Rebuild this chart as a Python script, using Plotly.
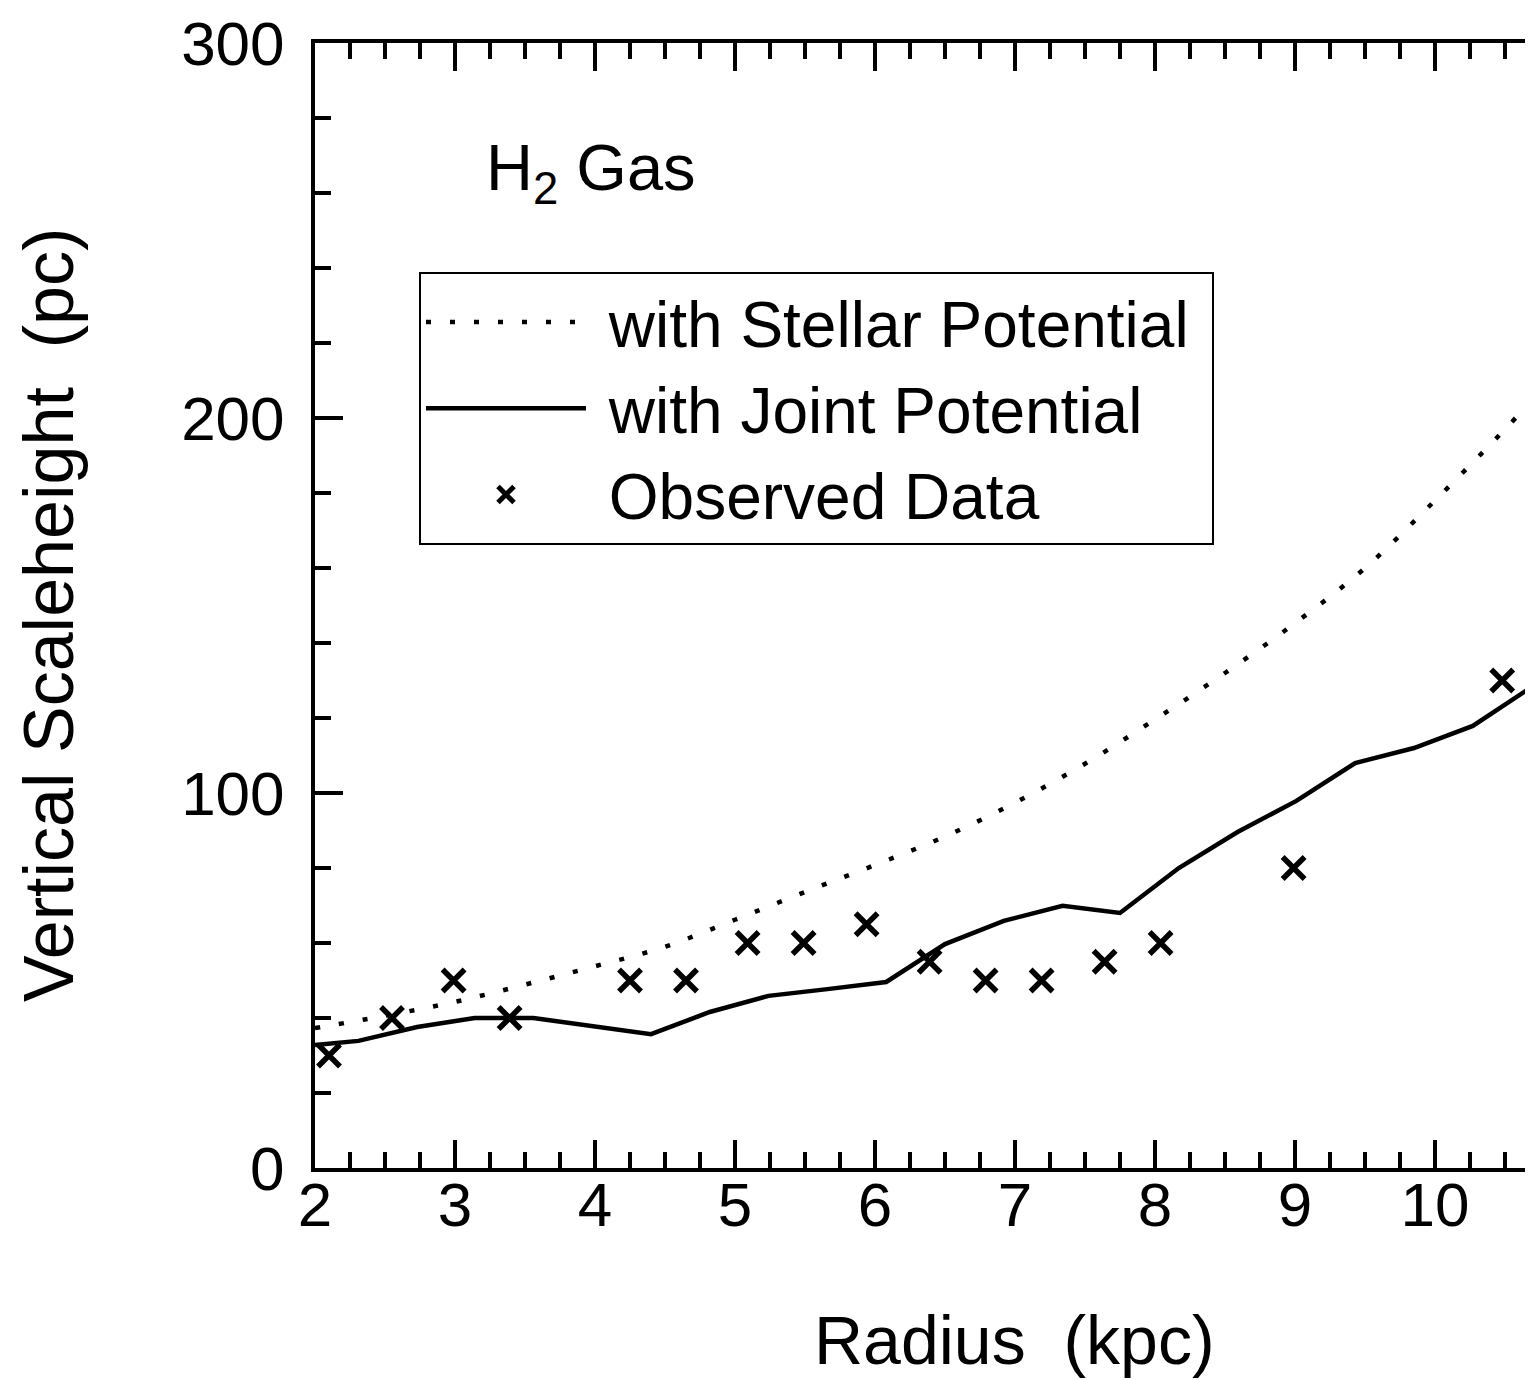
import plotly.graph_objects as go

# ---- data ----
stellar_r = [2.0, 2.5, 3.0, 3.5, 4.0, 4.5, 5.0, 5.5, 6.0, 6.5, 7.0, 7.5, 8.0, 8.5, 9.0, 9.5, 10.0, 10.5, 10.7]
stellar_h = [37.3, 40.6, 44.3, 48.9, 53.8, 59.0, 66.2, 73.6, 80.8, 88.4, 97.4, 107.8, 119.6, 132.0, 145.3, 160.0, 178.0, 197.0, 205.0]

joint_r = [2.0, 2.31, 2.73, 3.14, 3.56, 4.40, 4.82, 5.24, 5.66, 6.08, 6.50, 6.92, 7.34, 7.75,
           8.17, 8.59, 9.01, 9.43, 9.85, 10.27, 10.70]
joint_h = [32.8, 33.9, 37.6, 40.0, 40.0, 35.7, 41.6, 45.9, 47.7, 49.6, 59.7, 65.9, 69.9, 68.0,
           80.0, 89.6, 97.9, 108.0, 112.0, 117.9, 128.5]

obs_r = [2.10, 2.55, 2.99, 3.39, 4.25, 4.65, 5.09, 5.49, 5.94, 6.39, 6.79, 7.19, 7.64, 8.04, 8.99, 10.48]
obs_h = [30, 40, 50, 40, 50, 50, 60, 60, 65, 55, 50, 50, 55, 60, 80, 130]

x_ticks = [2, 3, 4, 5, 6, 7, 8, 9, 10]
y_ticks = [0, 100, 200, 300]

FONT = "Liberation Sans, Arial, sans-serif"
NB = "\u00a0"

# page body has an 8px margin; figure coordinates below are page coords minus 8
OFF = 8
PL, PT, PB, PR = 315, 43, 1168, 1533  # plot area in page pixels
W, H = 1525, 1372
PW, PH = PR - PL, PB - PT


def px(xp):
    return (xp - PL) / PW


def py(yp):
    return 1 - (yp - PT) / PH


fig = go.Figure()
fig.add_trace(go.Scatter(
    x=stellar_r, y=stellar_h, mode="lines", name=NB + "with Stellar Potential" + NB,
    line=dict(color="black", width=4.5, dash="5px,19px", shape="spline"),
))
fig.add_trace(go.Scatter(
    x=joint_r, y=joint_h, mode="lines", name=NB + "with Joint Potential",
    line=dict(color="black", width=4.5),
))
fig.add_trace(go.Scatter(
    x=obs_r, y=obs_h, mode="markers", name=NB + "Observed Data",
    marker=dict(symbol="x-thin", size=22, color="black", line=dict(color="black", width=5.5)),
))

fig.update_layout(
    width=W, height=H,
    margin=dict(l=PL - OFF, r=0, t=PT - OFF, b=H + OFF - PB),
    plot_bgcolor="white", paper_bgcolor="white",
    font=dict(family=FONT, size=62, color="black"),
    showlegend=True,
    legend=dict(
        x=px(419), y=py(272), xanchor="left", yanchor="top",
        bordercolor="black", borderwidth=2, bgcolor="white",
        font=dict(family=FONT, size=64, color="black"),
        itemwidth=160, tracegroupgap=0,
    ),
    xaxis=dict(
        range=[2, 10.7], tickvals=x_ticks, ticktext=[str(v) for v in x_ticks],
        ticks="inside", ticklen=28, tickwidth=4, tickcolor="black",
        showline=True, linewidth=4, linecolor="black", mirror="ticks",
        showgrid=False, zeroline=False,
        minor=dict(dtick=0.25, tick0=2, ticks="inside", ticklen=16, tickwidth=4, tickcolor="black", showgrid=False),
        tickfont=dict(family=FONT, size=62), ticklabelstandoff=-20,
    ),
    yaxis=dict(
        range=[0, 300], tickvals=y_ticks, ticktext=[str(v) for v in y_ticks],
        ticks="inside", ticklen=28, tickwidth=4, tickcolor="black",
        showline=True, linewidth=4, linecolor="black", mirror=False,
        showgrid=False, zeroline=False,
        minor=dict(dtick=20, tick0=0, ticks="inside", ticklen=16, tickwidth=4, tickcolor="black", showgrid=False),
        tickfont=dict(family=FONT, size=62), ticklabelstandoff=14,
    ),
    annotations=[
        dict(text="Radius  (kpc)", xref="paper", yref="paper",
             x=px(1014), y=py(1340),
             xanchor="center", yanchor="middle", showarrow=False,
             font=dict(family=FONT, size=68)),
        dict(text="Vertical Scaleheight  (pc)", xref="paper", yref="paper",
             x=px(49), y=py(615), textangle=-90,
             xanchor="center", yanchor="middle", showarrow=False,
             font=dict(family=FONT, size=70)),
        dict(text="H<sub>2</sub>" + NB + "Gas", xref="paper", yref="paper",
             x=px(484), y=py(173),
             xanchor="left", yanchor="middle", showarrow=False,
             font=dict(family=FONT, size=65)),
    ],
)

fig.write_html("out.html")
